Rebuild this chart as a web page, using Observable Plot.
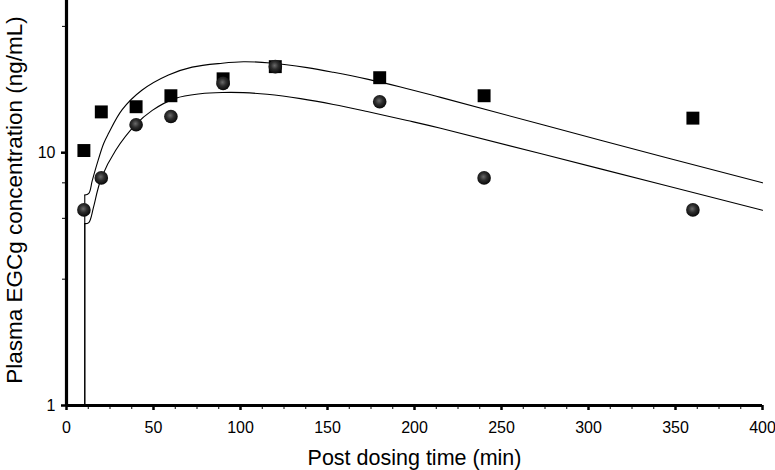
<!DOCTYPE html>
<html>
<head>
<meta charset="utf-8">
<script src="https://cdn.jsdelivr.net/npm/d3@7"></script>
<script src="https://cdn.jsdelivr.net/npm/@observablehq/plot@0.6"></script>
<style>
  html, body { margin: 0; padding: 0; background: #fff; }
</style>
</head>
<body>
<div id="chart"></div>
<script>
// Observed data: squares series
const squareTimes = [10, 20, 40, 60, 90, 120, 180, 240, 360];
const squareConc  = [10.2, 14.5, 15.2, 16.8, 19.6, 21.9, 19.8, 16.8, 13.7];
// Observed data: circles series
const circleTimes = [10, 20, 40, 60, 90, 120, 180, 240, 360];
const circleConc  = [5.94, 7.95, 12.9, 13.9, 18.8, 21.9, 15.9, 7.95, 5.94];

// Fitted curves
const upperT = [10.5, 10.5, 12.8, 14.8, 17.6, 21.3, 24.1, 32, 43.5, 58.6, 72.2, 89.5, 101.7, 117.2, 138.3, 153.4, 172.8, 192, 215, 306.9, 400];
const upperC = [1, 6.8, 6.9, 7.75, 9.05, 10.85, 11.9, 14.8, 17.7, 20.3, 21.8, 22.6, 22.9, 22.65, 21.7, 20.8, 19.55, 18.2, 16.55, 11.2, 7.6];
const lowerT = [10.5, 10.5, 12.8, 15.5, 17.8, 20.1, 28.2, 39.7, 49.3, 62.6, 77, 89.5, 101.7, 115.3, 134.5, 153.4, 172.8, 195.8, 215, 306.9, 400];
const lowerC = [1, 5.24, 5.29, 6.08, 7.07, 7.97, 10.2, 12.9, 14.7, 16.4, 17.1, 17.3, 17.28, 17.02, 16.36, 15.52, 14.55, 13.41, 12.49, 8.63, 5.92];

// Axis ticks
const xMajorTicks = [0, 50, 100, 150, 200, 250, 300, 350, 400];
const xMinorTicks = [12.5, 25, 37.5, 62.5, 75, 87.5, 112.5, 125, 137.5, 162.5, 175, 187.5, 212.5, 225, 237.5, 262.5, 275, 287.5, 312.5, 325, 337.5, 362.5, 375, 387.5];
const yMajorTicks = [1, 10];
const yMinorTicks = [3.16, 5.5, 7.6, 31.6];

const xLabel = "Post dosing time (min)";
const yLabel = "Plasma EGCg concentration (ng/mL)";

const squares = squareTimes.map((t, i) => ({t, c: squareConc[i]}));
const circles = circleTimes.map((t, i) => ({t, c: circleConc[i]}));
const upperDrop = upperT.slice(0, 2).map((t, i) => ({t, c: upperC[i]}));
const upperMain = upperT.slice(1).map((t, i) => ({t, c: upperC[i + 1]}));
const lowerDrop = lowerT.slice(0, 2).map((t, i) => ({t, c: lowerC[i]}));
const lowerMain = lowerT.slice(1).map((t, i) => ({t, c: lowerC[i + 1]}));

const chart = Plot.plot({
  width: 775,
  height: 470,
  marginLeft: 66,
  marginRight: 13,
  marginTop: 0,
  marginBottom: 65,
  x: {domain: [0, 400]},
  y: {type: "log", domain: [1, 40]},
  style: {fontFamily: "'Liberation Sans', Arial, sans-serif", color: "black", background: "white", overflow: "visible"},
  marks: [
    Plot.line(upperDrop, {x: "t", y: "c", stroke: "black", strokeWidth: 1.1}),
    Plot.line(lowerDrop, {x: "t", y: "c", stroke: "black", strokeWidth: 1.1}),
    Plot.line(upperMain, {x: "t", y: "c", curve: "catmull-rom", stroke: "black", strokeWidth: 1.1}),
    Plot.line(lowerMain, {x: "t", y: "c", curve: "catmull-rom", stroke: "black", strokeWidth: 1.1}),
    Plot.dot(squares, {x: "t", y: "c", symbol: "square", r: 7.3, fill: "black"}),
    Plot.dot(circles, {x: "t", y: "c", r: 6.8, fill: "url(#ball)"}),
    // axis lines
    Plot.ruleX([0], {stroke: "black", strokeWidth: 3.2}),
    Plot.ruleY([1], {stroke: "black", strokeWidth: 3.2}),
    // x axis
    Plot.axisX(xMajorTicks, {tickSize: 5, tickPadding: 11, strokeWidth: 2.5, fontSize: 16, tickFormat: d => String(d), label: null}),
    Plot.axisX(xMinorTicks, {tickSize: 4, strokeWidth: 1, tickFormat: () => "", label: null}),
    // y axis
    Plot.axisY(yMajorTicks, {tickSize: 5, tickPadding: 6, strokeWidth: 2.5, fontSize: 16, tickFormat: d => String(d), label: null}),
    Plot.axisY(yMinorTicks, {tickSize: 4, strokeWidth: 1, tickFormat: () => "", label: null}),
    // axis titles
    Plot.text([xLabel], {text: d => d, frameAnchor: "bottom", dy: 59, lineAnchor: "bottom", fontSize: 21.5, fill: "black"}),
    Plot.text([yLabel], {text: d => d, frameAnchor: "left", dx: -45, dy: -3, rotate: -90, lineAnchor: "bottom", textAnchor: "middle", fontSize: 22.5, fill: "black"})
  ]
});

d3.select(chart).insert("defs", ":first-child").html(
  '<radialGradient id="ball" cx="45%" cy="42%" r="60%">' +
  '<stop offset="0%" stop-color="#6a6a6a"/>' +
  '<stop offset="45%" stop-color="#2e2e2e"/>' +
  '<stop offset="100%" stop-color="#050505"/>' +
  '</radialGradient>'
);

document.getElementById("chart").appendChild(chart);
</script>
</body>
</html>
